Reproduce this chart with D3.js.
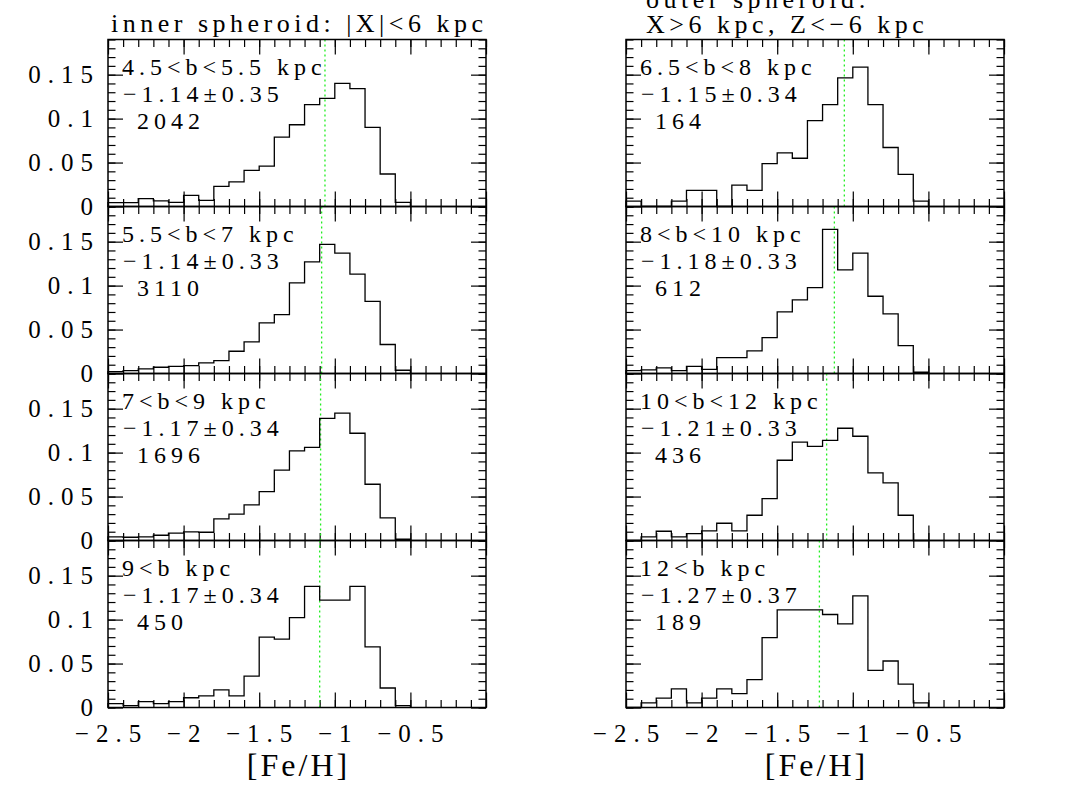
<!DOCTYPE html>
<html><head><meta charset="utf-8">
<script src="https://cdn.jsdelivr.net/npm/d3@7"></script>
<style>
body{margin:0;background:#fff}
svg{display:block;background:#fff}
text{font-family:"Liberation Serif",serif;fill:#000}
</style>
</head><body>
<svg id="chart" width="1067" height="797"></svg>
<script>
// ---------------- data ----------------
const binEdges = [-2.5,-2.4,-2.3,-2.2,-2.1,-2.0,-1.9,-1.8,-1.7,-1.6,-1.5,-1.4,-1.3,-1.2,-1.1,-1.0,-0.9,-0.8,-0.7,-0.6,-0.5];

const xTickValues = [-2.5,-2,-1.5,-1,-0.5];
const xTickLabels = ["\u22122.5","\u22122","\u22121.5","\u22121","\u22120.5"];
const yTickValues = [0,0.05,0.1,0.15];
const yTickLabels = ["0","0.05","0.1","0.15"];
const xAxisTitle = "[Fe/H]";

const innerTitle = ["inner spheroid: |X|<6 kpc"];
const outerTitle = ["outer spheroid:","X>6 kpc, Z<\u22126 kpc"];

const innerRanges = ["4.5<b<5.5 kpc","5.5<b<7 kpc","7<b<9 kpc","9<b kpc"];
const innerStats  = ["\u22121.14\u00b10.35","\u22121.14\u00b10.33","\u22121.17\u00b10.34","\u22121.17\u00b10.34"];
const innerCounts = ["2042","3110","1696","450"];
const innerMarkers = [-1.065,-1.087,-1.094,-1.100];

const outerRanges = ["6.5<b<8 kpc","8<b<10 kpc","10<b<12 kpc","12<b kpc"];
const outerStats  = ["\u22121.15\u00b10.34","\u22121.18\u00b10.33","\u22121.21\u00b10.33","\u22121.27\u00b10.37"];
const outerCounts = ["164","612","436","189"];
const outerMarkers = [-1.056,-1.122,-1.173,-1.221];

const inner1 = [0.0044,0.0044,0.0089,0.0063,0.0048,0.0127,0.0070,0.0230,0.0280,0.0410,0.0460,0.0790,0.0930,0.1160,0.1230,0.1400,0.1340,0.0900,0.0370,0.0048];
const inner2 = [0.0022,0.0033,0.0052,0.0071,0.0082,0.0090,0.0120,0.0147,0.0253,0.0359,0.0575,0.0670,0.1030,0.1270,0.1470,0.1370,0.1130,0.0820,0.0330,0.0037];
const inner3 = [0.0041,0.0037,0.0041,0.0060,0.0083,0.0098,0.0094,0.0245,0.0300,0.0405,0.0556,0.0800,0.1020,0.1060,0.1390,0.1450,0.1220,0.0640,0.0257,0.0014];
const inner4 = [0.0044,0.0022,0.0067,0.0044,0.0067,0.0111,0.0133,0.0200,0.0133,0.0356,0.0800,0.0778,0.1022,0.1378,0.1222,0.1222,0.1378,0.0689,0.0222,0.0022];

const outer1 = [0.0061,0,0,0.0061,0.0183,0.0183,0,0.0244,0.0183,0.0488,0.0610,0.0549,0.0976,0.1159,0.1463,0.1585,0.1159,0.0671,0.0366,0.0061];
const outer2 = [0.0033,0.0041,0.0063,0.0033,0.0082,0.0048,0.0181,0.0181,0.0257,0.0408,0.0701,0.0837,0.0977,0.1640,0.1178,0.1370,0.0879,0.0678,0.0317,0.0014];
const outer3 = [0,0.0041,0.0105,0.0041,0.0079,0.0109,0.0196,0.0109,0.0287,0.0477,0.0913,0.1120,0.1070,0.1140,0.1277,0.1186,0.0769,0.0656,0.0287,0];
const outer4 = [0,0.0053,0.0106,0.0212,0.0053,0.0106,0.0212,0.0159,0.0317,0.0794,0.1111,0.1111,0.1111,0.1058,0.0952,0.1270,0.0423,0.0529,0.0265,0.0053];

const xDomain = [-2.5, 0];
const yDomain = [0, 0.19];

// ---------------- layout ----------------
const svg = d3.select("#chart");
const colLeft = [108, 626];
const plotW = 378;
const top0 = 39.5;
const panelH = 167;
const fs = 24, ls = 5;          // annotation text
const hfs = 26, hls = 4.5;      // column titles
const tfs = 25, tls = 7;        // tick labels

const columns = [
  {title: innerTitle, ranges: innerRanges, stats: innerStats, counts: innerCounts, markers: innerMarkers, series: [inner1,inner2,inner3,inner4], yLabels: true},
  {title: outerTitle, ranges: outerRanges, stats: outerStats, counts: outerCounts, markers: outerMarkers, series: [outer1,outer2,outer3,outer4], yLabels: false}
];

const xMinor = d3.range(0, 26).map(i => -2.5 + i * 0.1);
const xMajor = [-2.5,-2,-1.5,-1,-0.5,0];
const yMinor = d3.range(0, 20).map(i => i * 0.01);
const yMajor = [0,0.05,0.1,0.15];
const majLen = 15, minLen = 7.5;

function styleAxis(g){
  g.select(".domain").remove();
  g.selectAll(".tick line").attr("stroke","#000").attr("stroke-width",1.2);
  g.selectAll(".tick text").remove();
}

columns.forEach((col, ci) => {
  const x0 = colLeft[ci];
  const x = d3.scaleLinear().domain(xDomain).range([x0, x0 + plotW]);

  // column titles
  if (ci === 0) {
    svg.append("text").attr("x", x0 + plotW/2 + hls/2).attr("y", 32).attr("text-anchor","middle")
      .attr("font-size", hfs).attr("letter-spacing", hls).text(col.title[0]);
  } else {
    col.title.forEach((t, i) => {
      svg.append("text").attr("x", x0 + 20).attr("y", 8 + i*25)
        .attr("font-size", hfs).attr("letter-spacing", hls).text(t);
    });
  }

  col.series.forEach((vals, ri) => {
    const top = top0 + ri * panelH;
    const bottom = top + panelH;
    const y = d3.scaleLinear().domain(yDomain).range([bottom, top]);
    const g = svg.append("g");

    // ticks (inward), via d3 axes
    [[xMinor,minLen],[xMajor,majLen]].forEach(([tv,len]) => {
      g.append("g").attr("transform",`translate(0,${top})`)
        .call(d3.axisBottom(x).tickValues(tv).tickSize(len)).call(styleAxis);
      g.append("g").attr("transform",`translate(0,${bottom})`)
        .call(d3.axisTop(x).tickValues(tv).tickSize(len)).call(styleAxis);
    });
    [[yMinor,minLen],[yMajor,majLen]].forEach(([tv,len]) => {
      g.append("g").attr("transform",`translate(${x0},0)`)
        .call(d3.axisRight(y).tickValues(tv).tickSize(len)).call(styleAxis);
      g.append("g").attr("transform",`translate(${x0+plotW},0)`)
        .call(d3.axisLeft(y).tickValues(tv).tickSize(len)).call(styleAxis);
    });

    // marker line (green dotted)
    const m = col.markers[ri];
    g.append("line").attr("x1", x(m)).attr("x2", x(m)).attr("y1", top).attr("y2", bottom)
      .attr("stroke","#22ee22").attr("stroke-width",1.3).attr("stroke-dasharray","2,3");

    // histogram step outline
    const pts = [[binEdges[0], 0]];
    vals.forEach((v, i) => pts.push([binEdges[i], v]));
    pts.push([binEdges[binEdges.length-1], 0]);
    const line = d3.line().x(d => x(d[0])).y(d => y(d[1])).curve(d3.curveStepAfter);
    g.append("path").attr("d", line(pts)).attr("fill","none")
      .attr("stroke","#000").attr("stroke-width",1.3);

    // frame
    g.append("rect").attr("x", x0).attr("y", top).attr("width", plotW).attr("height", panelH)
      .attr("fill","none").attr("stroke","#000").attr("stroke-width",1.5);

    // annotation text
    g.append("text").attr("x", x0 + 14).attr("y", top + 35).attr("font-size", fs)
      .attr("letter-spacing", ls).text(col.ranges[ri]);
    g.append("text").attr("x", x0 + 15).attr("y", top + 62).attr("font-size", fs)
      .attr("letter-spacing", ls).text(col.stats[ri]);
    g.append("text").attr("x", x0 + 29).attr("y", top + 89).attr("font-size", fs)
      .attr("letter-spacing", ls).text(col.counts[ri]);

    // y tick labels
    if (col.yLabels) {
      yTickValues.forEach((v, i) => {
        g.append("text").attr("x", x0 - 15 + tls).attr("y", y(v) + tfs*0.33)
          .attr("text-anchor","end").attr("font-size", tfs).attr("letter-spacing", tls)
          .text(yTickLabels[i]);
      });
    }

    // x tick labels on bottom row
    if (ri === col.series.length - 1) {
      xTickValues.forEach((v, i) => {
        g.append("text").attr("x", x(v) + tls/2).attr("y", bottom + 34)
          .attr("text-anchor","middle").attr("font-size", tfs).attr("letter-spacing", tls)
          .text(xTickLabels[i]);
      });
      g.append("text").attr("x", x0 + plotW/2 + 1.5).attr("y", bottom + 68)
        .attr("text-anchor","middle").attr("font-size", 32).attr("letter-spacing", 3)
        .text(xAxisTitle);
    }
  });
});
</script>
</body></html>
